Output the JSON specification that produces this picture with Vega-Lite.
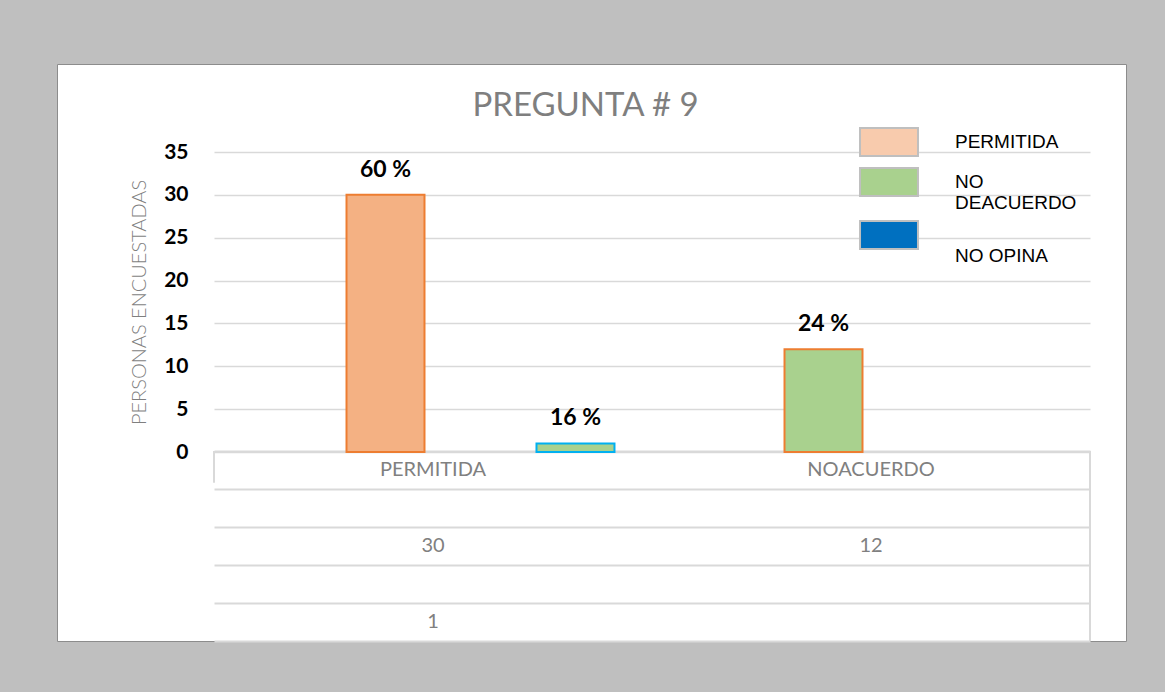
{
  "$schema": "https://vega.github.io/schema/vega-lite/v6.json",
  "width": 1069,
  "height": 577,
  "autosize": {"type": "none"},
  "padding": {"left": 57, "top": 64, "right": 39, "bottom": 51},
  "background": "#bfbfbf",
  "config": {
    "view": {"fill": "white", "stroke": "#8c8c8c", "strokeWidth": 1},
    "font": "Lato"
  },
  "title": {
    "text": "PREGUNTA # 9",
    "font": "Lato",
    "fontSize": 33,
    "fontWeight": "normal",
    "color": "#7f7f7f",
    "anchor": "middle",
    "frame": "group",
    "offset": -85,
    "baseline": "alphabetic",
    "dx": -6
  },
  "datasets": {
    "bars": [
      {"cat": "PERMITIDA", "slot": "S2", "serie": "PERMITIDA", "value": 30, "pct": "60 %"},
      {"cat": "PERMITIDA", "slot": "S4", "serie": "NO OPINA", "value": 1, "pct": "16 %"},
      {"cat": "NOACUERDO", "slot": "S2", "serie": "NO DEACUERDO", "value": 12, "pct": "24 %"}
    ],
    "table": [
      {"cat": "PERMITIDA", "row": "h", "txt": "PERMITIDA"},
      {"cat": "NOACUERDO", "row": "h", "txt": "NOACUERDO"},
      {"cat": "PERMITIDA", "row": "r2", "txt": "30"},
      {"cat": "NOACUERDO", "row": "r2", "txt": "12"},
      {"cat": "PERMITIDA", "row": "r4", "txt": "1"}
    ]
  },
  "layer": [
    {
      "data": {"name": "bars"},
      "encoding": {
        "x": {
          "field": "cat",
          "type": "nominal",
          "scale": {"type": "band", "domain": ["PERMITIDA", "NOACUERDO"], "range": [157, 1033], "paddingInner": 0, "paddingOuter": 0},
          "axis": null
        },
        "xOffset": {
          "field": "slot",
          "type": "nominal",
          "scale": {"domain": ["S1", "S2", "S3", "S4"], "paddingInner": 0.179, "paddingOuter": 0.395}
        },
        "y": {
          "field": "value",
          "type": "quantitative",
          "scale": {"domain": [0, 35], "range": [388, 88], "nice": false, "zero": true},
          "axis": {
            "title": "PERSONAS ENCUESTADAS",
            "values": [0, 5, 10, 15, 20, 25, 30, 35],
            "offset": -157,
            "labelPadding": 26,
            "domain": false,
            "ticks": false,
            "grid": true,
            "gridColor": "#d9d9d9",
            "gridWidth": 1.5,
            "labelFont": "Lato",
            "labelFontSize": 21,
            "labelFontWeight": "bold",
            "labelColor": "#000000",
            "titleFont": "Lato",
            "titleFontSize": 20,
            "titleFontWeight": 300,
            "titleColor": "#7f7f7f",
            "titlePadding": 14
          }
        }
      },
      "layer": [
        {
          "mark": {"type": "square", "size": 0, "filled": true, "opacity": 1},
          "encoding": {
            "color": {
              "field": "serie",
              "type": "nominal",
              "scale": {"domain": ["PERMITIDA", "NO DEACUERDO", "NO OPINA"], "range": ["#f8cbad", "#a9d18e", "#0070c0"]},
              "legend": {
                "orient": "none",
                "legendX": 817,
                "legendY": 63,
                "title": null,
                "symbolType": "M-2.07,-1H2.07V1H-2.07Z",
                "symbolSize": 784,
                "symbolStrokeColor": "#bfbfbf",
                "symbolStrokeWidth": 2,
                "labelFont": "Liberation Sans",
                "labelFontSize": 19,
                "labelColor": "#000000",
                "labelOffset": 51,
                "rowPadding": 4,
                "padding": 0,
                "labelLimit": 300,
                "labelExpr": "datum.label == 'NO DEACUERDO' ? ['NO', 'DEACUERDO'] : (datum.label == 'NO OPINA' ? ['', ' NO OPINA'] : datum.label)",
                "encode": {
                  "symbols": {"update": {"size": {"value": 784}, "opacity": {"value": 1}, "fillOpacity": {"value": 1}, "stroke": {"value": "#bfbfbf"}, "strokeWidth": {"value": 2}}},
                  "labels": {"update": {"lineHeight": {"value": 28}}}
                }
              }
            }
          }
        },
        {
          "mark": {"type": "bar", "strokeWidth": 2},
          "encoding": {
            "fill": {
              "field": "serie",
              "type": "nominal",
              "scale": {"domain": ["PERMITIDA", "NO DEACUERDO", "NO OPINA"], "range": ["#f4b183", "#a9d18e", "#a9d18e"]},
              "legend": null
            },
            "stroke": {
              "field": "slot",
              "type": "nominal",
              "scale": {"domain": ["S2", "S4"], "range": ["#ed7d31", "#00b0f0"]},
              "legend": null
            }
          }
        },
        {
          "mark": {"type": "text", "font": "Lato", "fontSize": 23, "fontWeight": "bold", "color": "#000000", "baseline": "alphabetic", "dy": -18},
          "encoding": {"text": {"field": "pct", "type": "nominal"}}
        }
      ]
    },
    {
      "data": {"name": "table"},
      "encoding": {
        "y": {
          "field": "row",
          "type": "ordinal",
          "scale": {"type": "band", "domain": ["h", "r1", "r2", "r3", "r4"], "range": [387, 577], "paddingInner": 0, "paddingOuter": 0},
          "axis": {
            "orient": "left",
            "offset": 0,
            "grid": true,
            "tickBand": "extent",
            "labels": false,
            "ticks": false,
            "domain": false,
            "title": null,
            "gridColor": "#d9d9d9",
            "gridWidth": 2
          }
        }
      },
      "layer": [
        {
          "mark": {"type": "text", "font": "Lato", "fontSize": 20, "fontWeight": "normal", "color": "#808080", "baseline": "middle"},
          "encoding": {
            "x": {"field": "cat", "type": "nominal"},
            "text": {"field": "txt", "type": "nominal"}
          }
        },
        {
          "mark": {"type": "rule", "color": "#d9d9d9", "strokeWidth": 2},
          "encoding": {
            "x": {"datum": "NOACUERDO", "bandPosition": 1},
            "y": {"datum": "h", "bandPosition": 0},
            "y2": {"datum": "r4", "bandPosition": 1}
          }
        },
        {
          "mark": {"type": "rule", "color": "#d9d9d9", "strokeWidth": 2},
          "encoding": {
            "x": {"datum": "PERMITIDA", "bandPosition": 0},
            "y": {"datum": "h", "bandPosition": 0},
            "y2": {"datum": "h", "bandPosition": 0.82}
          }
        }
      ]
    }
  ],
  "resolve": {"scale": {"y": "independent"}, "axis": {"y": "independent"}}
}
